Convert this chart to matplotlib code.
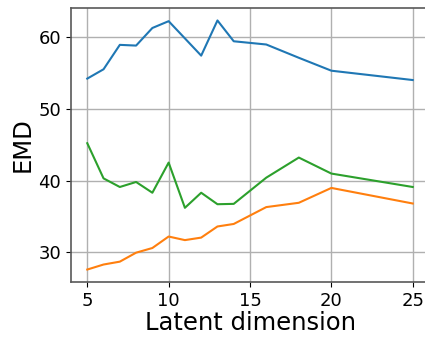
import matplotlib
matplotlib.use("Agg")
import matplotlib.pyplot as plt

# latent dimension vs EMD for three runs
dims = [5, 6, 7, 8, 9, 10, 11, 12, 13, 14, 16, 18, 20, 25]
emd_blue = [54.2, 55.5, 58.9, 58.8, 61.25, 62.2, 59.8, 57.4, 62.3, 59.4, 58.95, 57.1, 55.3, 54.0]
emd_orange = [27.6, 28.3, 28.7, 29.95, 30.6, 32.2, 31.7, 32.05, 33.6, 33.95, 36.3, 36.9, 38.97, 36.8]
emd_green = [45.2, 40.3, 39.1, 39.8, 38.3, 42.5, 36.2, 38.3, 36.7, 36.75, 40.4, 43.2, 40.97, 39.1]

fig = plt.figure(figsize=(4.25, 3.41), dpi=100)
ax = fig.add_axes([71 / 425, 59 / 341, 358 / 425, 274 / 341])

ax.plot(dims, emd_blue, color='tab:blue', lw=1.5)
ax.plot(dims, emd_orange, color='tab:orange', lw=1.5)
ax.plot(dims, emd_green, color='tab:green', lw=1.5)

ax.set_xticks([5, 10, 15, 20, 25])
ax.set_yticks([30, 40, 50, 60])
ax.tick_params(labelsize=13)
ax.grid(True, color='#b0b0b0', lw=1)
ax.set_axisbelow(True)
for s in ax.spines.values():
    s.set_color('0.35')
    s.set_linewidth(1.2)

ax.set_xlabel('Latent dimension', fontsize=17.5, labelpad=1)
ax.set_ylabel('EMD', fontsize=17.5, labelpad=3)

fig.savefig('out.png', dpi=100)
